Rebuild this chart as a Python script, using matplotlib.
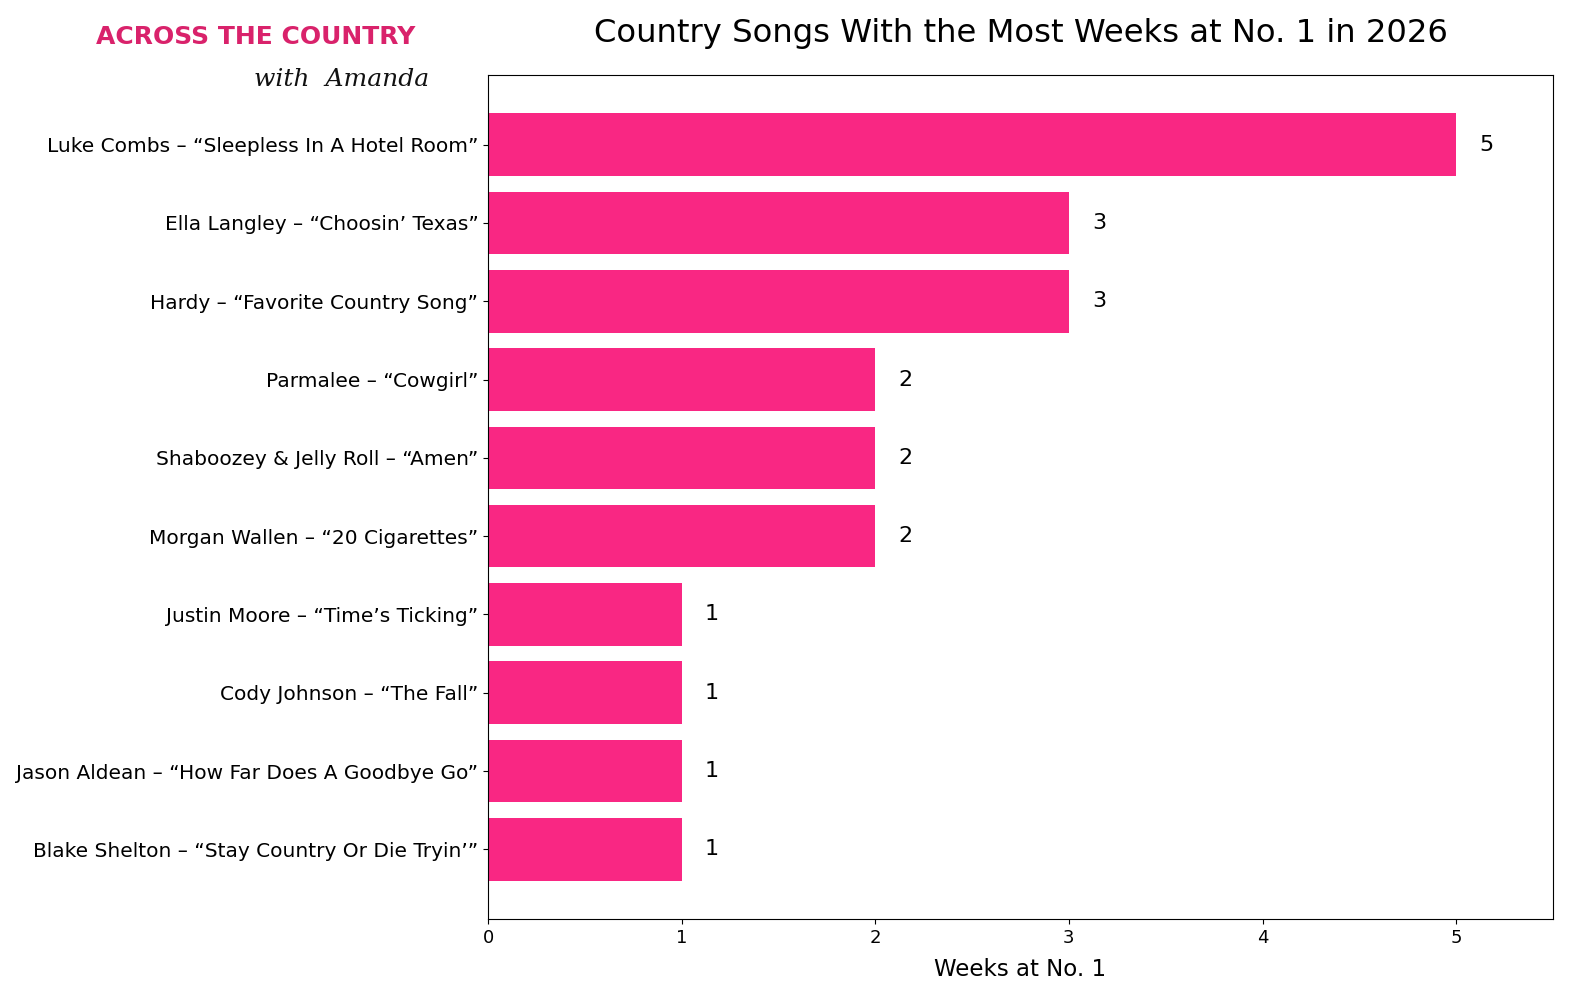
import matplotlib.pyplot as plt

# Data
songs = [
    "Luke Combs \u2013 \u201cSleepless In A Hotel Room\u201d",
    "Ella Langley \u2013 \u201cChoosin\u2019 Texas\u201d",
    "Hardy \u2013 \u201cFavorite Country Song\u201d",
    "Parmalee \u2013 \u201cCowgirl\u201d",
    "Shaboozey & Jelly Roll \u2013 \u201cAmen\u201d",
    "Morgan Wallen \u2013 \u201c20 Cigarettes\u201d",
    "Justin Moore \u2013 \u201cTime\u2019s Ticking\u201d",
    "Cody Johnson \u2013 \u201cThe Fall\u201d",
    "Jason Aldean \u2013 \u201cHow Far Does A Goodbye Go\u201d",
    "Blake Shelton \u2013 \u201cStay Country Or Die Tryin\u2019\u201d",
]
weeks = [5, 3, 3, 2, 2, 2, 1, 1, 1, 1]

bar_color = '#F92783'

fig = plt.figure(figsize=(15.77, 9.97), dpi=100)
ax = fig.add_axes([488 / 1577, 1 - 919 / 997, (1553 - 488) / 1577, (919 - 75) / 997])

y = list(range(len(songs)))
ax.barh(y, weeks, color=bar_color, height=0.8)
ax.invert_yaxis()
ax.set_yticks(y)
ax.set_yticklabels(songs, fontsize=14.5)
ax.set_xlim(0, 5.5)
ax.tick_params(axis='x', labelsize=13)

# Value labels next to each bar
for yi, w in zip(y, weeks):
    ax.text(w + 0.12, yi, str(w), va='center', ha='left', fontsize=16)

ax.set_xlabel('Weeks at No. 1', fontsize=16.5, labelpad=8)
ax.set_title('Country Songs With the Most Weeks at No. 1 in 2026', fontsize=23.2, pad=24)

# Logo text in the top-left corner
fig.text(256 / 1577, 1 - 37 / 997, 'ACROSS THE COUNTRY', ha='center', va='center',
         fontsize=18, fontweight='bold', color='#D9226B', family='DejaVu Sans')
fig.text(342 / 1577, 1 - 79 / 997, 'with  Amanda', ha='center', va='center',
         fontsize=18, fontstyle='italic', color='#111111', family='DejaVu Serif')

fig.savefig('out.png', dpi=100)
